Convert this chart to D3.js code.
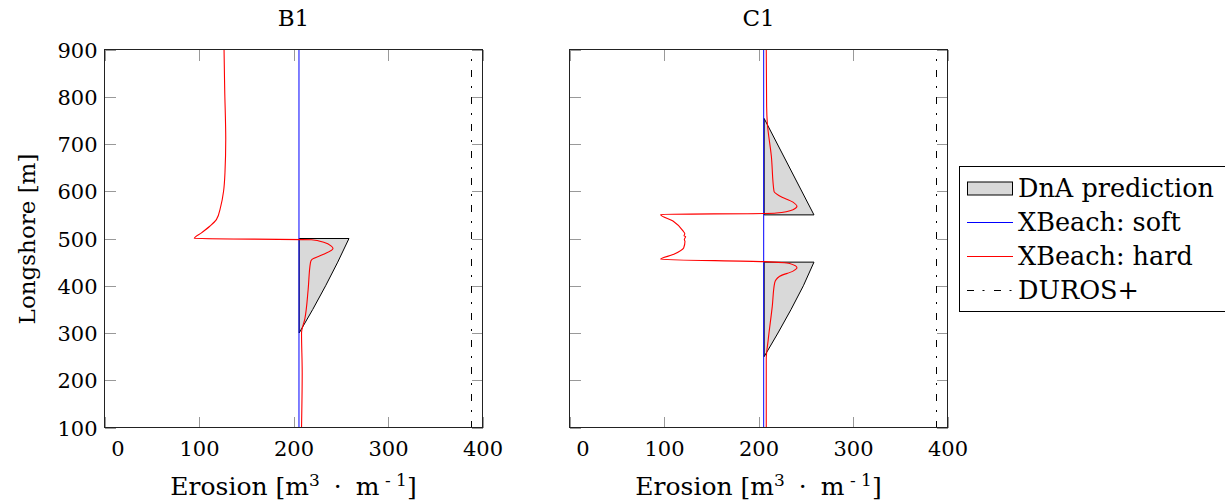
<html>
<script src="https://d3js.org/d3.v7.min.js"></script>
<style>
	body {margin: 0; background: white;}
	text {font-family: 'DejaVu Serif', serif; fill: black;}
	.tick line {stroke: #999; shape-rendering: crispEdges;}
	.crisp {shape-rendering: crispEdges;}
</style>
<body>
<svg class='chart' width=1225 height=504></svg>
<script>
	// axis ticks
	const xTicks = [0, 100, 200, 300, 400];
	const yTicks = [100, 200, 300, 400, 500, 600, 700, 800, 900];
	const panels = ['B1', 'C1'];

	// [erosion, longshore]
	const b1Dna = [[206, 500], [258.7, 500], [246.8, 450], [234, 400], [220.4, 350], [206, 300]];
	const b1Soft = [[205.8, 100], [205.8, 900]];
	const b1Hard = [[126.5, 900], [127.2, 815], [128.3, 710], [127.5, 640], [126, 600], [123, 568], [118.4, 540],
		[111.4, 526], [102.6, 512], [95, 500], [219, 497.5], [232, 492], [240, 483.7], [241.8, 478.8], [231.2, 466],
		[219.6, 455.6], [217.9, 448.6], [215.5, 392], [212, 330], [208.5, 300], [209.2, 216], [208.5, 100]];

	const c1Dna1 = [[206, 754], [258.7, 550], [206, 550]];
	const c1Dna2 = [[206, 450], [258.7, 450], [247.5, 400], [234.5, 350], [220.6, 300], [206, 250]];
	const c1Soft = [[205.5, 100], [205.5, 900]];
	const c1Hard = [[208.2, 900], [208.6, 780], [209.3, 745], [213.6, 674], [216.4, 600], [222.4, 590], [236.5, 577],
		[240.7, 568], [236.5, 561], [218.8, 554], [206.5, 553], [96.4, 551], [109.5, 537], [120.1, 516], [122, 510],
		[121.2, 506], [122.9, 504], [121.5, 498], [122.2, 494], [120.8, 480], [109.5, 466], [96.4, 456], [206.5, 451],
		[233, 447], [240.7, 438], [236.5, 431], [222.4, 420], [217.1, 406], [214.6, 357], [210.3, 286], [208.2, 244],
		[208.2, 100]];

	const duros = 388.3;

	const dnaSets = [[b1Dna], [c1Dna1, c1Dna2]];
	const softSets = [b1Soft, c1Soft];
	const hardSets = [b1Hard, c1Hard];

	const legendLabels = ['DnA prediction', 'XBeach: soft', 'XBeach: hard', 'DUROS+'];

	const svg = d3.select('svg');
	const plotTop = 49.5, size = 378;
	const lefts = [104.5, 569.5];
	const durosDash = '7,8.5,2,9.5';

	var y = d3.scaleLinear().domain([100, 900]).range([plotTop + size, plotTop]);

	panels.forEach(function(name, i) {
		var x = d3.scaleLinear().domain([0, 400]).range([lefts[i], lefts[i] + size]);
		var g = svg.append('g');
		var line = d3.line().x(d => x(d[0])).y(d => y(d[1]));
		var smooth = d3.line().x(d => x(d[0])).y(d => y(d[1])).curve(d3.curveMonotoneY);

		// DnA polygons
		dnaSets[i].forEach(function(poly) {
			g.append('path')
				.attr('d', line(poly) + 'Z')
				.attr('fill', '#d9d9d9')
				.attr('stroke', 'black')
				.attr('stroke-width', 1);
		});
		g.append('path')
			.attr('d', line(softSets[i]))
			.attr('fill', 'none')
			.attr('stroke', 'blue')
			.attr('stroke-width', 1);
		g.append('path')
			.attr('d', smooth(hardSets[i]))
			.attr('fill', 'none')
			.attr('stroke', 'red')
			.attr('stroke-width', 1.1);
		g.append('path')
			.attr('class', 'crisp')
			.attr('d', line([[duros, 100], [duros, 900]]))
			.attr('fill', 'none')
			.attr('stroke', 'black')
			.attr('stroke-width', 1)
			.attr('stroke-dasharray', durosDash);

		// ticks on all four sides, pointing inward
		var bottom = g.append('g')
			.attr('transform', 'translate(0,' + (plotTop + size) + ')')
			.call(d3.axisBottom(x).tickValues(xTicks).tickSize(-11));
		bottom.selectAll('text')
			.attr('y', 28.5).attr('dy', null)
			.style('font-size', '21px');
		bottom.selectAll('text').filter(d => d === 0).attr('dx', 13);
		g.append('g')
			.attr('transform', 'translate(0,' + plotTop + ')')
			.call(d3.axisTop(x).tickValues(xTicks).tickSize(-11).tickFormat(''));
		var left = g.append('g')
			.attr('transform', 'translate(' + lefts[i] + ',0)')
			.call(d3.axisLeft(y).tickValues(yTicks).tickSize(-11).tickPadding(7).tickFormat(i === 0 ? d3.format('d') : ''));
		left.selectAll('text').style('font-size', '21px').attr('dy', '0.36em');
		g.append('g')
			.attr('transform', 'translate(' + (lefts[i] + size) + ',0)')
			.call(d3.axisRight(y).tickValues(yTicks).tickSize(-11).tickFormat(''));
		g.selectAll('.domain').remove();

		g.append('rect')
			.attr('class', 'crisp')
			.attr('x', lefts[i]).attr('y', plotTop)
			.attr('width', size).attr('height', size)
			.attr('fill', 'none').attr('stroke', '#222').attr('stroke-width', 1);

		g.append('text')
			.attr('x', lefts[i] + size / 2).attr('y', 26)
			.attr('text-anchor', 'middle')
			.style('font-size', '23px')
			.text(name);

		var xl = g.append('text')
			.attr('x', lefts[i] + size / 2).attr('y', 495)
			.attr('text-anchor', 'middle')
			.style('font-size', '25px');
		xl.append('tspan').text('Erosion [m');
		xl.append('tspan').attr('dy', -9).style('font-size', '17px').text('3');
		xl.append('tspan').attr('dy', 9).attr('dx', 14).text('\u00b7');
		xl.append('tspan').attr('dx', 14).text('m');
		xl.append('tspan').attr('dy', -9).style('font-size', '17px').text(' - 1');
		xl.append('tspan').attr('dy', 9).text(']');
	});

	svg.append('text')
		.attr('transform', 'translate(35,239) rotate(-90)')
		.attr('text-anchor', 'middle')
		.style('font-size', '23px')
		.text('Longshore [m]');

	// legend
	var lg = svg.append('g');
	lg.append('rect')
		.attr('class', 'crisp')
		.attr('x', 959.5).attr('y', 166.5)
		.attr('width', 300).attr('height', 145)
		.attr('fill', 'white').attr('stroke', 'black');
	legendLabels.forEach(function(label, k) {
		var cy = 188.5 + k * 34;
		if (k === 0) {
			lg.append('rect')
				.attr('x', 967.5).attr('y', cy - 6.5)
				.attr('width', 45).attr('height', 13)
				.attr('fill', '#d9d9d9').attr('stroke', 'black');
		} else {
			lg.append('line')
				.attr('x1', 967).attr('x2', 1013)
				.attr('y1', cy).attr('y2', cy)
				.attr('stroke', ['blue', 'red', 'black'][k - 1])
				.attr('stroke-dasharray', k === 3 ? durosDash : null);
		}
		lg.append('text')
			.attr('x', 1018).attr('y', cy + 8)
			.style('font-size', '25.5px')
			.text(label);
	});
</script>
</body>
</html>
